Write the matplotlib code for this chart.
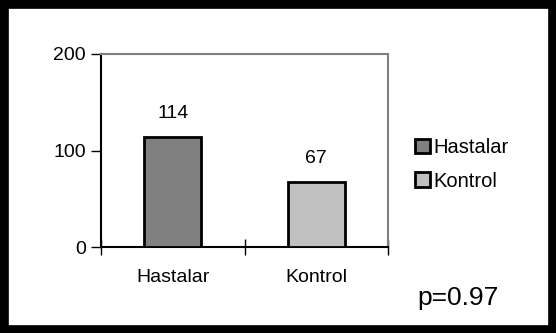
import numpy as np
import matplotlib.pyplot as plt
from matplotlib.patches import Rectangle

groups = ["Hastalar", "Kontrol"]
counts = [114, 67]
colors = ["#808080", "#c0c0c0"]
p_text = "p=0.97"

plt.rcParams['font.family'] = ['Liberation Sans', 'DejaVu Sans']

W, H = 556, 333
fig = plt.figure(figsize=(W / 100, H / 100), dpi=100)

# black outer frame
fig.patches.append(Rectangle((0, 0), 1, 1, transform=fig.transFigure,
                             fill=False, edgecolor='black', linewidth=12))

ax = fig.add_axes([101 / W, 1 - 247 / H, 287 / W, 193 / H])
x = np.arange(len(groups)) + 0.5
bars = ax.bar(x, counts, width=0.4, color=colors, edgecolor='black',
              linewidth=2, label=groups, zorder=3)

ax.set_xlim(0, len(groups))
ax.set_ylim(0, 200)
ax.set_yticks([0, 100, 200])
ax.set_yticklabels(['0', '100', '200'], fontsize=14)
ax.tick_params(axis='y', length=7, width=1, direction='out', pad=4)

# category labels centred, ticks on category boundaries
ax.set_xticks(np.arange(len(groups) + 1))
ax.set_xticklabels([])
ax.tick_params(axis='x', length=11, width=1, direction='inout')
ax.set_xticks(x, minor=True)
ax.set_xticklabels(groups, minor=True, fontsize=14)
ax.tick_params(axis='x', which='minor', length=0, pad=16)

for s in ['top', 'right']:
    ax.spines[s].set_color('#808080')
    ax.spines[s].set_linewidth(1.5)
for s in ['left', 'bottom']:
    ax.spines[s].set_color('black')
    ax.spines[s].set_linewidth(1.5)

for b, v in zip(bars, counts):
    ax.annotate(str(v), (b.get_x() + b.get_width() / 2, v),
                xytext=(0, 17), textcoords='offset points',
                ha='center', va='center', fontsize=14)

leg = fig.legend(handles=bars, labels=groups, loc='upper left',
                 bbox_to_anchor=(405 / W, 1 - 128 / H), frameon=False,
                 fontsize=14.5, handlelength=0.75, handleheight=0.75,
                 handletextpad=0.15, labelspacing=0.72, borderpad=0)
for h in leg.legend_handles:
    h.set_linewidth(2)

fig.text(417 / W, 1 - 298 / H, p_text, fontsize=19, ha='left', va='center')

fig.savefig('out.png', dpi=100)
